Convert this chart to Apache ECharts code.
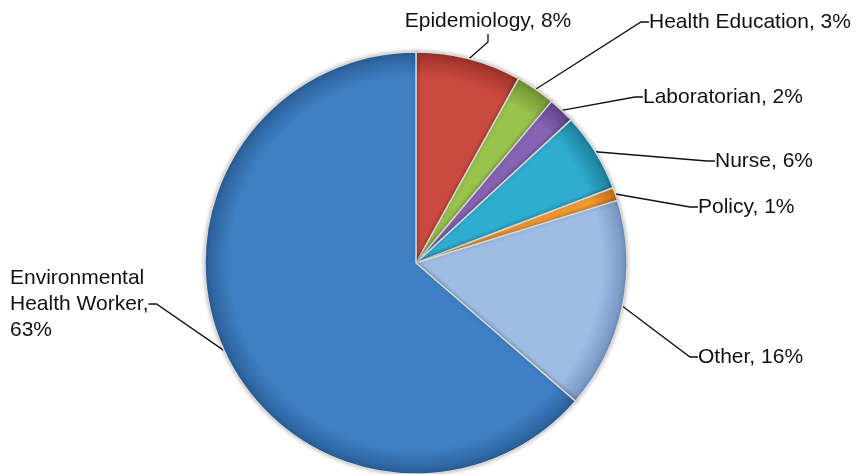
<!DOCTYPE html>
<html>
<head>
<meta charset="utf-8">
<script src="https://cdn.jsdelivr.net/npm/echarts@6/dist/echarts.min.js"></script>
<style>
  html, body { margin: 0; padding: 0; background: #fff; }
  #chart { width: 867px; height: 474px; }
</style>
</head>
<body>
<div id="chart"></div>
<script>
// categories, clockwise from 12 o'clock
const categories = ['Epidemiology', 'Health Education', 'Laboratorian', 'Nurse', 'Policy', 'Other', 'Environmental Health Worker']
// percent of respondents
const percents = [8, 3, 2, 6, 1, 16, 63]

const colors = ['#cb4a40', '#98c24c', '#8763b4', '#2fadd0', '#f39a31', '#9fbde4', '#3f80c4']
const edges = ['#9c3129', '#6f9030', '#5d4386', '#1d7f9c', '#c26d14', '#7393c0', '#2a5f98']

// where each label sits (x, y, align)
const labelPos = [
    [488, 21, 'center'],
    [649, 22, 'left'],
    [643, 97, 'left'],
    [715, 161, 'left'],
    [698, 207, 'left'],
    [698, 357, 'left'],
    [10, 304, 'left']
]

const cx = 416, cy = 263, r = 211

const chart = echarts.init(document.getElementById('chart'))

const option = {
    backgroundColor: '#fff',
    animation: false,
    series: [{
        type: 'pie',
        center: [cx, cy],
        radius: r,
        startAngle: 90,
        clockwise: true,
        data: categories.map((name, i) => ({
            name: name,
            value: percents[i],
            itemStyle: {
                color: new echarts.graphic.RadialGradient(cx, cy, r, [
                    { offset: 0, color: colors[i] },
                    { offset: 0.88, color: colors[i] },
                    { offset: 1, color: edges[i] }
                ], true)
            }
        })),
        itemStyle: {
            borderColor: '#d8d8d8',
            borderWidth: 1.5,
            shadowColor: 'rgba(0,0,0,0.25)',
            shadowBlur: 4
        },
        label: {
            show: true,
            position: 'outside',
            color: '#111',
            fontFamily: 'Liberation Sans, Arial, sans-serif',
            fontSize: 21,
            lineHeight: 26,
            formatter: function (p) {
                if (p.dataIndex === 6) {
                    return 'Environmental\nHealth Worker,\n' + p.value + '%'
                }
                return p.name + ', ' + p.value + '%'
            }
        },
        labelLine: {
            show: true,
            length: 10,
            length2: 8,
            lineStyle: { color: '#111', width: 1.3 }
        },
        labelLayout: function (params) {
            const pos = labelPos[params.dataIndex]
            return {
                x: pos[0],
                y: pos[1],
                align: pos[2],
                verticalAlign: 'middle'
            }
        },
        emphasis: { disabled: true }
    }]
}

chart.setOption(option)
</script>
</body>
</html>
